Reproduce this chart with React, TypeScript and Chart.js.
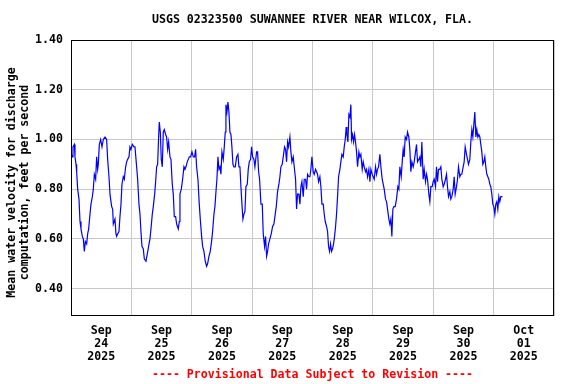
import { useEffect, useRef } from 'react';
import { Chart, registerables } from 'chart.js';

Chart.register(...registerables);

const FONT_FAMILY = '"DejaVu Sans Mono", "Liberation Mono", monospace';

const titleText = 'USGS 02323500 SUWANNEE RIVER NEAR WILCOX, FLA.';
const footnoteText = '---- Provisional Data Subject to Revision ----';
const yTitleLines = ['Mean water velocity for discharge', 'computation, feet per second'];

// Day labels shown at noon of each day (hours since Sep 24 2025 00:00)
const dayLabels = [
  ['Sep', '24', '2025'],
  ['Sep', '25', '2025'],
  ['Sep', '26', '2025'],
  ['Sep', '27', '2025'],
  ['Sep', '28', '2025'],
  ['Sep', '29', '2025'],
  ['Sep', '30', '2025'],
  ['Oct', '01', '2025'],
];

const yTicks = [0.4, 0.6, 0.8, 1.0, 1.2, 1.4];

// Hours since 2025-09-24 00:00
const hours = [
  0, 0.40, 0.79, 1.32, 1.59, 1.99, 2.25, 2.65, 3.18, 3.58,
  3.97, 4.50, 4.90, 5.30, 5.70, 6.23, 6.62, 7.02, 7.55, 7.95,
  8.48, 8.87, 9.27, 9.80, 10.20, 10.60, 10.86, 11.26, 11.79, 12.32,
  12.85, 13.51, 14.17, 14.57, 15.10, 15.50, 16.16, 16.56, 16.82, 17.48,
  17.88, 18.15, 18.54, 19.07, 19.47, 19.87, 20.26, 20.79, 21.19, 21.72,
  22.12, 22.52, 23.05, 23.44, 23.84, 24.37, 25.03, 25.43, 26.09, 26.49,
  27.02, 27.42, 27.81, 28.21, 28.74, 29.14, 29.80, 30.33, 30.86, 31.39,
  31.79, 32.32, 32.72, 33.25, 33.64, 34.04, 34.44, 34.83, 35.10, 35.50,
  35.89, 36.29, 36.69, 37.09, 37.62, 38.01, 38.41, 38.81, 39.34, 39.74,
  40.26, 40.66, 41.06, 41.59, 41.99, 42.65, 43.05, 43.31, 43.84, 44.37,
  44.90, 45.30, 45.70, 46.23, 46.62, 47.02, 47.55, 48.08, 48.61, 49.14,
  49.54, 49.93, 50.46, 50.99, 51.39, 51.92, 52.32, 52.85, 53.38, 53.91,
  54.30, 54.83, 55.36, 55.89, 56.29, 56.82, 57.22, 57.62, 58.01, 58.41,
  58.81, 59.21, 59.60, 60.00, 60.53, 60.93, 61.32, 61.59, 61.99, 62.38,
  62.78, 63.18, 63.58, 63.97, 64.37, 64.77, 65.30, 65.83, 66.36, 66.75,
  67.15, 67.55, 67.95, 68.34, 68.74, 69.14, 69.54, 70.07, 70.46, 70.86,
  71.39, 71.79, 72.19, 72.72, 73.11, 73.77, 74.17, 74.57, 74.97, 75.50,
  76.03, 76.42, 76.95, 77.35, 77.75, 78.15, 78.54, 79.07, 79.60, 80.13,
  80.66, 81.06, 81.59, 82.12, 82.65, 83.05, 83.44, 83.97, 84.37, 84.90,
  85.30, 85.70, 86.09, 86.49, 87.02, 87.42, 87.81, 88.34, 88.74, 89.27,
  89.67, 90.07, 90.60, 90.99, 91.39, 91.79, 92.32, 92.72, 93.25, 93.64,
  94.04, 94.57, 94.97, 95.36, 95.76, 96.29, 96.69, 97.22, 97.62, 98.01,
  98.41, 98.94, 99.34, 99.74, 100.26, 100.66, 101.06, 101.59, 101.99, 102.38,
  102.78, 103.18, 103.58, 103.97, 104.37, 104.77, 105.17, 105.56, 105.96, 106.36,
  106.89, 107.28, 107.68, 108.21, 108.61, 109.01, 109.40, 109.67, 110.07, 110.46,
  110.86, 111.26, 111.52, 111.92, 112.32, 112.72, 113.11, 113.51, 113.91, 114.44,
  114.83, 115.23, 115.76, 116.16, 116.56, 117.09, 117.48, 117.88, 118.41, 118.81,
  119.21, 119.74, 120.13, 120.53, 121.06, 121.46, 121.85, 122.25, 122.78, 123.18,
  123.71, 124.11, 124.50, 125.03, 125.43, 125.96, 126.36, 126.75, 127.15, 127.55,
  127.95, 128.34, 128.87, 129.40, 129.93, 130.33, 130.73, 131.26, 131.66, 132.05,
  132.45, 132.85, 133.38, 133.77, 134.30, 134.70, 135.10, 135.50, 136.03, 136.42,
  136.95, 137.35, 137.75, 138.28, 138.68, 139.07, 139.47, 140.00, 140.40, 140.93,
  141.32, 141.72, 142.25, 142.65, 143.05, 143.58, 143.97, 144.37, 144.90, 145.30,
  145.70, 146.09, 146.62, 147.02, 147.42, 147.95, 148.34, 148.87, 149.27, 149.67,
  150.07, 150.60, 150.99, 151.39, 151.92, 152.32, 152.72, 153.25, 153.64, 154.04,
  154.57, 154.97, 155.36, 155.89, 156.29, 156.69, 157.22, 157.62, 158.01, 158.54,
  158.94, 159.34, 159.74, 160.13, 160.53, 160.93, 161.32, 161.72, 162.12, 162.52,
  162.91, 163.31, 163.71, 164.11, 164.50, 164.90, 165.30, 165.70, 166.09, 166.49,
  166.89, 167.28, 167.68, 168.08, 168.48, 168.87, 169.27, 169.67, 170.07, 170.46,
  170.86, 171.26, 171.52,
];

// Mean water velocity, ft/s
const velocity = [
  0.95, 0.93, 0.97, 0.98, 0.93, 0.90, 0.87, 0.80, 0.76, 0.67,
  0.64, 0.61, 0.60, 0.55, 0.59, 0.58, 0.62, 0.64, 0.70, 0.74,
  0.77, 0.80, 0.86, 0.84, 0.93, 0.88, 0.90, 0.98, 1.00, 0.97,
  1.00, 1.01, 1.00, 0.92, 0.85, 0.78, 0.73, 0.72, 0.66, 0.68,
  0.62, 0.61, 0.62, 0.63, 0.69, 0.74, 0.82, 0.85, 0.84, 0.89,
  0.91, 0.92, 0.93, 0.97, 0.96, 0.98, 0.97, 0.97, 0.89, 0.84,
  0.74, 0.70, 0.63, 0.57, 0.56, 0.52, 0.51, 0.54, 0.57, 0.60,
  0.64, 0.70, 0.73, 0.78, 0.83, 0.89, 0.90, 1.01, 1.07, 1.03,
  0.92, 0.89, 1.03, 1.04, 1.02, 1.01, 0.96, 0.99, 0.93, 0.92,
  0.82, 0.78, 0.69, 0.69, 0.66, 0.64, 0.67, 0.78, 0.80, 0.84,
  0.89, 0.88, 0.89, 0.91, 0.92, 0.93, 0.93, 0.95, 0.93, 0.93,
  0.96, 0.89, 0.84, 0.74, 0.68, 0.61, 0.57, 0.55, 0.51, 0.49,
  0.50, 0.53, 0.55, 0.59, 0.63, 0.70, 0.73, 0.79, 0.84, 0.93,
  0.88, 0.89, 0.86, 0.95, 0.92, 0.97, 1.03, 1.14, 1.11, 1.15,
  1.11, 1.03, 1.02, 0.97, 0.90, 0.89, 0.89, 0.93, 0.94, 0.89,
  0.89, 0.81, 0.74, 0.68, 0.70, 0.71, 0.81, 0.82, 0.88, 0.91,
  0.92, 0.97, 0.93, 0.92, 0.89, 0.95, 0.95, 0.87, 0.84, 0.74,
  0.74, 0.62, 0.57, 0.61, 0.53, 0.55, 0.58, 0.60, 0.62, 0.65,
  0.66, 0.69, 0.73, 0.79, 0.82, 0.85, 0.89, 0.90, 0.93, 0.97,
  0.96, 0.91, 0.99, 0.97, 1.01, 0.95, 0.91, 0.93, 0.89, 0.84,
  0.72, 0.78, 0.78, 0.74, 0.81, 0.83, 0.77, 0.84, 0.84, 0.80,
  0.86, 0.85, 0.85, 0.88, 0.93, 0.87, 0.86, 0.88, 0.87, 0.86,
  0.83, 0.85, 0.81, 0.74, 0.74, 0.70, 0.67, 0.65, 0.63, 0.57,
  0.55, 0.58, 0.55, 0.56, 0.58, 0.61, 0.65, 0.70, 0.77, 0.85,
  0.88, 0.91, 0.94, 0.93, 0.97, 1.00, 1.05, 1.02, 0.99, 1.10,
  1.09, 1.14, 1.00, 1.02, 0.99, 1.02, 0.99, 0.95, 0.89, 0.95,
  0.93, 0.94, 0.88, 0.91, 0.89, 0.87, 0.88, 0.85, 0.88, 0.83,
  0.88, 0.86, 0.85, 0.84, 0.89, 0.86, 0.88, 0.89, 0.94, 0.89,
  0.84, 0.82, 0.80, 0.76, 0.75, 0.71, 0.68, 0.66, 0.68, 0.61,
  0.72, 0.73, 0.73, 0.76, 0.81, 0.80, 0.89, 0.85, 0.91, 0.96,
  0.93, 1.01, 1.00, 1.03, 1.01, 0.96, 0.87, 0.91, 0.89, 0.91,
  0.95, 0.98, 0.91, 0.92, 0.93, 0.89, 0.99, 0.84, 0.88, 0.83,
  0.86, 0.84, 0.78, 0.75, 0.81, 0.81, 0.83, 0.84, 0.81, 0.89,
  0.83, 0.88, 0.88, 0.89, 0.84, 0.81, 0.82, 0.84, 0.86, 0.81,
  0.77, 0.79, 0.76, 0.77, 0.80, 0.85, 0.78, 0.81, 0.84, 0.89,
  0.85, 0.86, 0.86, 0.89, 0.91, 0.97, 0.94, 0.92, 0.90, 0.92,
  0.99, 1.04, 1.01, 1.06, 1.11, 1.01, 1.04, 1.01, 1.02, 1.01,
  0.98, 0.95, 0.90, 0.91, 0.93, 0.89, 0.86, 0.85, 0.84, 0.82,
  0.81, 0.78, 0.74, 0.73, 0.70, 0.74, 0.75, 0.72, 0.77, 0.75,
  0.77, 0.77, 0.77,
];

const GRID = '#c8c8c8';
const baseFont = { family: FONT_FAMILY, size: 11.6, weight: 'bold' as const };

const framePlugin = {
  id: 'frame',
  afterDraw(chart: any) {
    const { ctx, chartArea } = chart;
    ctx.save();
    ctx.strokeStyle = '#000';
    ctx.lineWidth = 1;
    ctx.strokeRect(
      Math.round(chartArea.left) + 0.5,
      Math.round(chartArea.top) + 0.5,
      Math.round(chartArea.right - chartArea.left) - 1,
      Math.round(chartArea.bottom - chartArea.top) - 1
    );
    // Y-axis title (two rotated lines), centred a little below the plot centre
    const cy = (chartArea.top + chartArea.bottom) / 2 + 4.5;
    ctx.fillStyle = '#000';
    ctx.font = `bold ${baseFont.size}px ${FONT_FAMILY}`;
    ctx.textAlign = 'center';
    ctx.textBaseline = 'middle';
    yTitleLines.forEach((line, i) => {
      ctx.save();
      ctx.translate(12 + i * 13, cy);
      ctx.rotate(-Math.PI / 2);
      ctx.fillText(line, 0, 0);
      ctx.restore();
    });
    ctx.restore();
  },
};

export default function App() {
  const canvasRef = useRef<HTMLCanvasElement | null>(null);

  useEffect(() => {
    document.body.style.margin = '0';
    const canvas = canvasRef.current;
    if (!canvas) return;
    const chart = new Chart(canvas, {
      type: 'line',
      data: {
        datasets: [
          {
            data: hours.map((h, i) => ({ x: h, y: velocity[i] })),
            borderColor: '#0000ff',
            borderWidth: 1.2,
            pointRadius: 0,
            tension: 0,
            fill: false,
          },
        ],
      },
      options: {
        responsive: false,
        animation: false,
        layout: { padding: { left: 0, right: 22, top: 0, bottom: 0 } },
        plugins: {
          legend: { display: false },
          tooltip: { enabled: false },
          title: {
            display: true,
            text: titleText,
            fullSize: false,
            color: '#000',
            font: { ...baseFont, lineHeight: '14px' },
            padding: { top: 13, bottom: 13 },
          },
          subtitle: {
            display: true,
            position: 'bottom',
            text: footnoteText,
            fullSize: false,
            color: '#ff0000',
            font: { ...baseFont, lineHeight: '14px' },
            padding: { top: 0, bottom: 2 },
          },
        },
        scales: {
          x: {
            type: 'linear',
            min: 0,
            max: 192,
            afterBuildTicks: (scale: any) => {
              const t = [];
              for (let v = 0; v <= 192; v += 12) t.push({ value: v });
              scale.ticks = t;
            },
            afterFit: (scale: any) => {
              scale.height = 52;
            },
            grid: {
              color: (ctx: any) =>
                ctx.tick && ctx.tick.value % 24 === 0 ? GRID : 'rgba(0,0,0,0)',
              drawTicks: false,
              lineWidth: 1,
            },
            border: { display: false },
            ticks: {
              autoSkip: false,
              maxRotation: 0,
              minRotation: 0,
              padding: 8,
              color: '#000',
              font: { ...baseFont, lineHeight: '13px' },
              callback: (v: any) => {
                const n = Number(v);
                return n % 24 === 12 ? dayLabels[Math.floor(n / 24)] : '';
              },
            },
          },
          y: {
            type: 'linear',
            min: 0.29,
            max: 1.4,
            afterBuildTicks: (scale: any) => {
              scale.ticks = yTicks.map((v) => ({ value: v }));
            },
            afterFit: (scale: any) => {
              scale.width = 71;
            },
            grid: { color: GRID, drawTicks: false, lineWidth: 1 },
            border: { display: false },
            ticks: {
              padding: 8,
              color: '#000',
              font: { ...baseFont, lineHeight: '13px' },
              callback: (v: any) => Number(v).toFixed(2),
            },
            title: { display: false },
          },
        },
      },
      plugins: [framePlugin],
    } as any);
    return () => chart.destroy();
  }, []);

  return (
    <div style={{ width: 576, height: 384 }}>
      <canvas ref={canvasRef} width={576} height={384} style={{ display: 'block' }} />
    </div>
  );
}
